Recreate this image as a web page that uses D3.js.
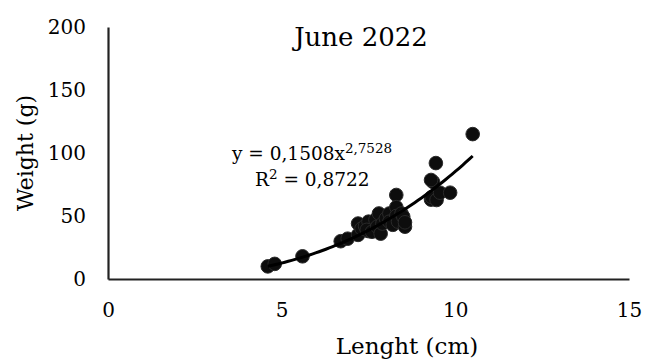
<!DOCTYPE html>
<html>
<head>
<meta charset="utf-8">
<script src="https://cdn.jsdelivr.net/npm/d3@7"></script>
<style>
  html, body { margin: 0; padding: 0; background: #fff; }
  svg text { font-family: "DejaVu Serif", serif; fill: #000; }
</style>
</head>
<body>
<svg id="chart" width="657" height="362"></svg>
<script>
// Length (cm) and weight (g) of the sampled fish
const lengthCm = [4.6, 4.8, 5.6, 6.7, 6.9, 7.2, 7.2, 7.3, 7.4, 7.5, 7.5, 7.45, 7.6, 7.7, 7.75, 7.8, 7.85, 7.9, 8.0, 8.1, 8.1, 8.2, 8.3, 8.3, 8.3, 8.35, 8.45, 8.5, 8.55, 8.55, 9.3, 9.32, 9.36, 9.44, 9.3, 9.46, 9.56, 9.85, 10.5];
const weightG  = [10, 12, 18, 30, 32, 44, 35, 40, 42, 45.5, 38, 39, 37.5, 47, 41.5, 52, 36, 44, 48, 52, 45.5, 43, 66.7, 57, 50, 45.5, 52, 49.5, 41.5, 45, 63, 65, 77, 92, 78.6, 62.7, 68.5, 68.5, 115];

// Power trend fitted to the data
const fitA = 0.1508, fitB = 2.7528, fitR2 = 0.8722;

const xTicks = [0, 5, 10, 15];
const yTicks = [0, 50, 100, 150, 200];

const svg = d3.select("#chart");
const x = d3.scaleLinear().domain([0, 15]).range([108, 629]);
const y = d3.scaleLinear().domain([0, 200]).range([279, 27]);

// Axes (lines plus labels, no tick marks)
const xAxis = svg.append("g").attr("transform", `translate(0,${y(0)})`)
  .call(d3.axisBottom(x).tickValues(xTicks).tickSize(0).tickPadding(24));
xAxis.select(".domain").attr("stroke", "#222").attr("stroke-width", 2.2);
xAxis.selectAll("text").attr("font-size", 20).attr("font-family", "DejaVu Serif").attr("fill", "#000");

const yAxis = svg.append("g").attr("transform", `translate(${x(0)},0)`)
  .call(d3.axisLeft(y).tickValues(yTicks).tickSize(0).tickPadding(22));
yAxis.select(".domain").attr("stroke", "#222").attr("stroke-width", 2.2);
yAxis.selectAll("text").attr("font-size", 20).attr("font-family", "DejaVu Serif").attr("fill", "#000");

// Data points
svg.append("g").selectAll("circle")
  .data(lengthCm.map((v, i) => [v, weightG[i]]))
  .join("circle")
  .attr("cx", d => x(d[0]))
  .attr("cy", d => y(d[1]))
  .attr("r", 6.8)
  .attr("fill", "#0d0d0d")
  .attr("stroke", "#2a2a2a")
  .attr("stroke-width", 1);

// Power trendline y = a x^b across the data range
const xMin = d3.min(lengthCm), xMax = d3.max(lengthCm);
const trend = d3.range(0, 61).map(i => {
  const xv = xMin + (xMax - xMin) * i / 60;
  return [xv, fitA * Math.pow(xv, fitB)];
});
svg.append("path")
  .datum(trend)
  .attr("fill", "none")
  .attr("stroke", "#000")
  .attr("stroke-width", 3)
  .attr("d", d3.line().x(d => x(d[0])).y(d => y(d[1])));

// Equation and R²
const fmt = v => String(v).replace(".", ",");
const eq = svg.append("text").attr("x", 232).attr("y", 160).attr("font-size", 18.5);
eq.append("tspan").text(`y = ${fmt(fitA)}x`);
eq.append("tspan").attr("dy", -7).attr("font-size", 13.5).text(fmt(fitB));
const r2 = svg.append("text").attr("x", 255).attr("y", 186).attr("font-size", 18.5);
r2.append("tspan").text("R");
r2.append("tspan").attr("dy", -7).attr("font-size", 13.5).text("2");
r2.append("tspan").attr("dy", 7).text(` = ${fmt(fitR2)}`);

// Title
svg.append("text").attr("x", 361).attr("y", 46).attr("text-anchor", "middle")
  .attr("font-size", 26).text("June 2022");

// Axis titles
svg.append("text").attr("x", 407).attr("y", 354).attr("text-anchor", "middle")
  .attr("font-size", 23).text("Lenght (cm)");
svg.append("text").attr("transform", "translate(33,153) rotate(-90)")
  .attr("text-anchor", "middle").attr("font-size", 22).text("Weight (g)");
</script>
</body>
</html>
